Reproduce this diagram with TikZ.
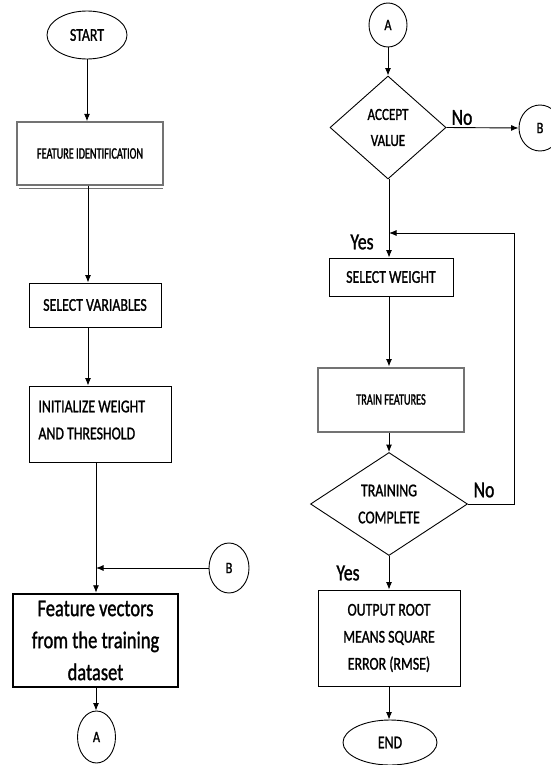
\documentclass[tikz,border=0pt]{standalone}
\usepackage{fontspec}
\setmainfont{Carlito}[FakeStretch=0.77,FakeBold=1.2]
\newfontfamily\narrowfont{Carlito}[FakeStretch=0.64,FakeBold=1.4]
\usetikzlibrary{shapes.geometric,arrows.meta}
\begin{document}
\begin{tikzpicture}[x=1pt,y=-1pt,
  line width=0.9pt,
  arr/.style={-{Latex[length=7.5pt,width=6pt]}},
  box/.style={draw, rectangle, inner sep=0pt, align=center, font=\fontsize{18}{27}\selectfont},
  term/.style={draw, ellipse, inner sep=0pt, font=\fontsize{18}{27}\selectfont},
  conn/.style={draw, ellipse, inner sep=0pt, font=\fontsize{16}{20}\selectfont},
  dec/.style={draw, diamond, inner sep=0pt, align=center, font=\fontsize{17}{26}\selectfont},
  lbl/.style={inner sep=0pt, font=\fontsize{23}{28}\selectfont},
  graybox/.style={box, draw=black!55},
]
\useasboundingbox (0,0) rectangle (551,765);
\fill[white] (0,0) rectangle (551,765);

% ---------- left column ----------
\node[term, minimum width=80pt, minimum height=48pt] (start) at (87,35) {START};
\node[graybox, line width=1.4pt, minimum width=146pt, minimum height=63pt] (fi) at (90,153.5)
  {\narrowfont\fontsize{16}{18}\selectfont FEATURE IDENTIFICATION};
\draw[black!55, line width=1.2pt] ([xshift=3pt,yshift=-3pt]fi.south west) -- ([xshift=-1pt,yshift=-3pt]fi.south east);
\node[box, minimum width=132pt, minimum height=44pt] (sv) at (95,305) {SELECT VARIABLES};
\node[box, minimum width=142pt, minimum height=76pt] (iw) at (100,424) {};
\node[inner sep=0pt, anchor=west, align=left, font=\fontsize{18}{27}\selectfont] (iwt) at (38,420)
  {INITIALIZE WEIGHT\\AND THRESHOLD};
\node[box, line width=2.5pt, minimum width=165pt, minimum height=93pt, font=\fontsize{24}{32}\selectfont] (fv) at (95.5,640.5)
  {Feature vectors\\from the training\\dataset};
\node[conn, minimum width=40pt, minimum height=50pt] (bl) at (229,568) {B};
\node[conn, minimum width=38pt, minimum height=52pt] (al) at (96.5,737) {A};

\coordinate (xa) at (88,0);
\coordinate (xl) at (96,0);
\draw[arr] (start.south) -- (start.south |- fi.north);
\draw[arr] (xa |- fi.south) -- (xa |- sv.north);
\draw[arr] (xa |- sv.south) -- (xa |- iw.north);
\draw[arr] (xl |- iw.south) -- (xl |- fv.north);
\draw[arr] (bl.west) -- (xl |- bl.west);
\draw[arr] (xl |- fv.south) -- (xl |- al.north);

% ---------- right column ----------
\node[conn, minimum width=38pt, minimum height=44pt] (ar) at (388,25) {A};
\node[dec, minimum width=116pt, minimum height=103pt] (d1) at (388,127.5) {ACCEPT\\VALUE};
\node[conn, minimum width=42pt, minimum height=46pt] (br) at (540,128) {B};
\node[lbl] (no1) at (462,117.5) {No};
\node[box, minimum width=124pt, minimum height=38pt] (sw) at (391,277) {SELECT WEIGHT};
\node[lbl] (yes1) at (362,242) {Yes};
\node[graybox, line width=2pt, minimum width=146pt, minimum height=64pt] (tf) at (391,399.5)
  {\narrowfont\fontsize{16}{18}\selectfont TRAIN FEATURES};
\node[dec, minimum width=157pt, minimum height=103pt, font=\fontsize{18}{27}\selectfont] (d2) at (389,504) {TRAINING\\COMPLETE};
\node[lbl] (no2) at (484,490) {No};
\node[lbl] (yes2) at (348,573) {Yes};
\node[box, minimum width=142pt, minimum height=96pt] (out) at (389,638) {OUTPUT ROOT\\MEANS SQUARE\\ERROR (RMSE)};
\node[term, minimum width=94pt, minimum height=45pt] (end) at (390,742.5) {END};

\coordinate (xr) at (389,0);
\coordinate (lp) at (514,233);
\draw[arr] (ar.south) -- (d1.north);
\draw[arr] (d1.east) -- (br.west);
\draw[arr] (xr |- d1.south) -- (xr |- sw.north);
\draw[arr] (d2.east) -| (lp) -- (xr |- lp);
\draw[arr] (xr |- sw.south) -- (xr |- tf.north);
\draw[arr] (xr |- tf.south) -- (xr |- d2.north);
\draw[arr] (d2.south) -- (d2.south |- out.north);
\draw[arr] (xr |- out.south) -- (xr |- end.north);
\end{tikzpicture}
\end{document}
